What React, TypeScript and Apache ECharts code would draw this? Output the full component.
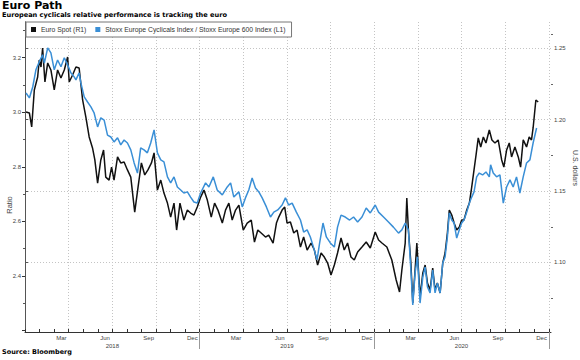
import React, { useEffect, useRef } from 'react';
import * as echarts from 'echarts';

const chartTitle = 'Euro Path';
const chartSubtitle = 'European cyclicals relative performance is tracking the euro';
const sourceNote = 'Source: Bloomberg';
const leftAxisName = 'Ratio';
const rightAxisName = 'U.S. dollars';
const euroName = 'Euro Spot (R1)';
const stoxxName = 'Stoxx Europe Cyclicals Index / Stoxx Europe 600 Index (L1)';

// time is expressed in months elapsed since 1 Jan 2018
const monthStarts = [0, 1, 2, 3, 4, 5, 6, 7, 8, 9, 10, 11, 12, 13, 14, 15, 16, 17, 18, 19, 20, 21, 22, 23, 24, 25, 26, 27, 28, 29, 30, 31, 32, 33, 34, 35, 36];
const quarterStarts = [3, 6, 9, 12, 15, 18, 21, 24, 27, 30, 33, 36];
const monthLabelPos = [2.5, 5.5, 8.5, 11.5, 14.5, 17.5, 20.5, 23.5, 26.5, 29.5, 32.5, 35.5];
const monthLabels = ['Mar', 'Jun', 'Sep', 'Dec', 'Mar', 'Jun', 'Sep', 'Dec', 'Mar', 'Jun', 'Sep', 'Dec'];
const yearLabelPos = [6, 18, 30];
const yearLabels = ['2018', '2019', '2020'];
const yearBoundaries = [12, 24, 36];

const leftMajorTicks = [2.2, 2.4, 2.6, 2.8, 3.0, 3.2];
const leftLabelTicks = [2.4, 2.6, 2.8, 3.0, 3.2];
const leftMinorTicks = [2.3, 2.5, 2.7, 2.9, 3.1, 3.3];
const rightMajorTicks = [1.1, 1.15, 1.2, 1.25];
const rightMinorTicks = [1.075, 1.125, 1.175, 1.225, 1.26];

// Stoxx Europe Cyclicals / Stoxx Europe 600 ratio (left axis)
const stoxxT = [
  0.07, 0.30, 0.53, 0.75, 0.98, 1.21, 1.33, 1.56, 1.78, 2.01,
  2.24, 2.47, 2.70, 2.93, 3.15, 3.38, 3.50, 3.72, 3.84, 4.07,
  4.30, 4.53, 4.75, 4.99, 5.21, 5.44, 5.67, 5.90, 6.12, 6.36,
  6.58, 6.81, 7.04, 7.27, 7.50, 7.73, 7.95, 8.18, 8.41, 8.64,
  8.87, 9.10, 9.33, 9.55, 9.79, 10.01, 10.24, 10.47, 10.70, 10.92,
  11.16, 11.38, 11.61, 11.84, 12.07,
  12.41, 12.64, 12.94, 13.21, 13.56, 13.90, 14.13, 14.35, 14.70, 14.93,
  15.15, 15.38, 15.61, 15.84, 16.07, 16.30, 16.59, 16.87, 17.10, 17.37,
  17.67, 17.90, 18.12, 18.36, 18.65, 18.93, 19.15, 19.39, 19.61, 19.84,
  20.07, 20.25, 20.48, 20.71, 20.98, 21.26, 21.48, 21.72, 22.01, 22.31,
  22.58, 22.86, 23.16, 23.45, 23.73,
  24.07, 24.30, 24.64, 24.98, 25.32, 25.67, 25.90, 26.13, 26.35, 26.52,
  26.65, 26.81, 26.97, 27.15, 27.34, 27.50, 27.66, 27.84, 28.02, 28.18,
  28.34, 28.53, 28.71, 28.87, 29.03, 29.16, 29.33, 29.49, 29.67, 29.85,
  30.01, 30.17, 30.36, 30.54, 30.70, 30.86, 31.04, 31.22, 31.45, 31.68,
  31.91, 32.00, 32.18, 32.41, 32.64, 32.87, 33.10, 33.33, 33.55, 33.78,
  34.01, 34.24, 34.47, 34.70, 34.92, 35.16,
];
const stoxxV = [
  3.070, 3.052, 3.092, 3.155, 3.184, 3.210, 3.180, 3.235, 3.217, 3.155,
  3.191, 3.166, 3.199, 3.173, 3.144, 3.129, 3.118, 3.144, 3.107, 3.056,
  3.037, 3.019, 2.997, 2.946, 2.979, 2.971, 2.916, 2.909, 2.891, 2.906,
  2.880, 2.898, 2.887, 2.862, 2.814, 2.777, 2.869, 2.862, 2.851, 2.887,
  2.935, 2.851, 2.825, 2.818, 2.763, 2.741, 2.763, 2.726, 2.715, 2.704,
  2.708, 2.689, 2.671, 2.667, 2.704,
  2.741, 2.726, 2.763, 2.715, 2.697, 2.726, 2.741, 2.689, 2.708, 2.653,
  2.686, 2.715, 2.759, 2.722, 2.708, 2.686, 2.653, 2.616, 2.634, 2.642,
  2.660, 2.686, 2.660, 2.667, 2.634, 2.605, 2.561, 2.569, 2.543, 2.503,
  2.459, 2.521, 2.594, 2.543, 2.521, 2.506, 2.579, 2.623, 2.616, 2.605,
  2.616, 2.598, 2.616, 2.649, 2.631,
  2.660, 2.634, 2.616, 2.598, 2.579, 2.557, 2.569, 2.594, 2.569, 2.422,
  2.294, 2.411, 2.470, 2.301, 2.396, 2.433, 2.360, 2.338, 2.422, 2.338,
  2.374, 2.338, 2.448, 2.470, 2.543, 2.631, 2.605, 2.594, 2.539, 2.569,
  2.594, 2.605, 2.634, 2.667, 2.689, 2.708, 2.763, 2.777, 2.770, 2.781,
  2.763, 2.807, 2.777, 2.763, 2.770, 2.667, 2.726, 2.752, 2.726, 2.763,
  2.704, 2.763, 2.814, 2.825, 2.887, 2.942,
];

// EUR/USD spot (right axis)
const euroT = [
  0.07, 0.30, 0.46, 0.64, 0.87, 0.98, 1.10, 1.21, 1.37, 1.56,
  1.78, 2.01, 2.24, 2.47, 2.70, 2.93, 3.04, 3.27, 3.50, 3.72,
  3.96, 4.18, 4.41, 4.64, 4.80, 4.99, 5.21, 5.40, 5.55, 5.78,
  5.95, 6.12, 6.36, 6.58, 6.81, 7.04, 7.27, 7.54, 7.77, 8.00,
  8.23, 8.45, 8.69, 8.87, 9.10, 9.33, 9.55, 9.79, 10.01, 10.24,
  10.42, 10.65, 10.92, 11.16, 11.38, 11.61, 11.84, 12.07,
  12.30, 12.53, 12.80, 13.03, 13.26, 13.56, 13.78, 14.01, 14.24, 14.47,
  14.70, 15.00, 15.27, 15.55, 15.77, 16.00, 16.23, 16.53, 16.75, 17.05,
  17.28, 17.44, 17.67, 17.85, 18.01, 18.24, 18.47, 18.70, 18.93, 19.15,
  19.39, 19.66, 19.89, 20.11, 20.35, 20.57, 20.80, 21.03, 21.26, 21.48,
  21.72, 21.94, 22.17, 22.40, 22.63, 22.86, 23.16, 23.45, 23.73,
  24.07, 24.30, 24.53, 24.87, 25.21, 25.51, 25.74, 25.90, 26.13, 26.24,
  26.35, 26.52, 26.65, 26.81, 26.93, 27.15, 27.34, 27.50, 27.66, 27.84,
  28.02, 28.18, 28.34, 28.53, 28.71, 28.87, 29.03, 29.16, 29.33, 29.49,
  29.67, 29.85, 30.01, 30.17, 30.36, 30.54, 30.70, 30.86, 31.00, 31.15,
  31.32, 31.50, 31.68, 31.91, 32.09, 32.30, 32.52, 32.76, 32.91, 33.10,
  33.28, 33.44, 33.67, 33.90, 34.06, 34.24, 34.47, 34.65, 34.81, 34.92,
  35.11, 35.27,
];
const euroV = [
  1.2054, 1.2047, 1.1949, 1.2208, 1.2299, 1.2418, 1.2369, 1.2502, 1.2264, 1.2397,
  1.2348, 1.2208, 1.2348, 1.2292, 1.2348, 1.2439, 1.2264, 1.2313, 1.2369, 1.2362,
  1.2138, 1.2019, 1.1879, 1.1802, 1.1718, 1.1556, 1.1718, 1.1788, 1.1598, 1.1577,
  1.1668, 1.1577, 1.1739, 1.1697, 1.1704, 1.1648, 1.1598, 1.1353, 1.1528, 1.1697,
  1.1613, 1.1648, 1.1697, 1.1767, 1.1507, 1.1577, 1.1486, 1.1416, 1.1318, 1.1416,
  1.1227, 1.1416, 1.1297, 1.1367, 1.1346, 1.1332, 1.1388, 1.1458,
  1.1507, 1.1437, 1.1318, 1.1416, 1.1367, 1.1276, 1.1367, 1.1416, 1.1297, 1.1367,
  1.1402, 1.1227, 1.1276, 1.1297, 1.1143, 1.1227, 1.1206, 1.1178, 1.1192, 1.1136,
  1.1276, 1.1318, 1.1367, 1.1388, 1.1276, 1.1283, 1.1206, 1.1227, 1.1108, 1.1178,
  1.1087, 1.1136, 1.1087, 1.0982, 1.1066, 1.1038, 1.0996, 1.0912, 1.0982, 1.1066,
  1.1171, 1.1087, 1.1136, 1.1038, 1.1017, 1.1073, 1.1108, 1.1143, 1.1101,
  1.1213, 1.1157, 1.1136, 1.1108, 1.1017, 1.0877, 1.0793, 1.0947, 1.1136, 1.1451,
  1.1227, 1.0996, 1.0716, 1.0947, 1.1136, 1.0758, 1.0926, 1.0982, 1.0856, 1.0807,
  1.0961, 1.0807, 1.0856, 1.0786, 1.0996, 1.1066, 1.1206, 1.1367, 1.1332, 1.1276,
  1.1227, 1.1248, 1.1297, 1.1297, 1.1367, 1.1416, 1.1528, 1.1648, 1.1753, 1.1872,
  1.1809, 1.1879, 1.1837, 1.1928, 1.1858, 1.1837, 1.1858, 1.1718, 1.1668, 1.1788,
  1.1837, 1.1739, 1.1809, 1.1739, 1.1668, 1.1858, 1.1809, 1.1879, 1.1858, 1.1942,
  1.2138, 1.2124,
];

const X_MIN = 0;
const X_MAX = 36.15;
const L_MIN = 2.195;
const L_MAX = 3.33;
const R_MIN = 1.0513;
const R_MAX = 1.2684;

const LABEL_FONT = '"Liberation Sans", Arial, sans-serif';
const HEAD_FONT = '"DejaVu Sans", Verdana, sans-serif';

function zip(t: number[], v: number[]) {
  const n = Math.min(t.length, v.length);
  const out: number[][] = [];
  for (let i = 0; i < n; i++) out.push([t[i], v[i]]);
  return out;
}

function lookup(pos: number[], labels: string[], v: number) {
  const i = pos.findIndex((p) => Math.abs(p - v) < 1e-6);
  return i >= 0 ? labels[i] : '';
}

export default function App() {
  const ref = useRef<HTMLDivElement>(null);
  useEffect(() => {
    if (!ref.current) return;
    const chart = echarts.init(ref.current, undefined, { renderer: 'svg' });
    const baseX = { type: 'value', min: X_MIN, max: X_MAX, position: 'bottom', gridIndex: 0 };
    const option: any = {
      animation: false,
      backgroundColor: '#ffffff',
      grid: { left: 25, right: 29, top: 22, bottom: 28, containLabel: false, outerBoundsMode: 'none' },
      legend: {
        data: [euroName, stoxxName],
        left: 26,
        top: 22,
        icon: 'rect',
        itemWidth: 5,
        itemHeight: 5,
        itemGap: 9,
        padding: [4, 6, 4, 5],
        borderColor: '#777',
        borderWidth: 1,
        backgroundColor: '#fff',
        textStyle: { fontSize: 6.8, color: '#333', fontFamily: LABEL_FONT },
        z: 10,
      },
      xAxis: [
        {
          ...baseX,
          axisLine: { show: true, lineStyle: { color: '#333', width: 1 } },
          axisTick: { show: true, inside: true, length: 3, customValues: monthStarts, lineStyle: { color: '#333' } },
          axisLabel: {
            show: true,
            customValues: monthLabelPos,
            formatter: (v: number) => lookup(monthLabelPos, monthLabels, v),
            fontSize: 6,
            color: '#444',
            margin: 3,
            fontFamily: LABEL_FONT,
          },
          splitLine: { show: false },
        },
        {
          ...baseX,
          axisLine: { show: false },
          axisTick: { show: false, customValues: quarterStarts },
          axisLabel: { show: false },
          splitLine: { show: true, lineStyle: { color: '#c4c4c4', width: 1, type: [1, 2] } },
        },
        {
          ...baseX,
          axisLine: { show: false },
          axisTick: { show: true, inside: false, length: 17, customValues: yearBoundaries, lineStyle: { color: '#999' } },
          axisLabel: {
            show: true,
            customValues: yearLabelPos,
            formatter: (v: number) => lookup(yearLabelPos, yearLabels, v),
            fontSize: 6,
            color: '#444',
            margin: 11,
            fontFamily: LABEL_FONT,
          },
          splitLine: { show: false },
        },
      ],
      yAxis: [
        {
          type: 'value', position: 'left', min: L_MIN, max: L_MAX,
          axisLine: { show: true, lineStyle: { color: '#333' } },
          axisTick: { show: true, length: 3, customValues: leftMajorTicks, lineStyle: { color: '#333' } },
          axisLabel: {
            customValues: leftLabelTicks,
            formatter: (v: number) => v.toFixed(1),
            fontSize: 6, color: '#444', margin: 4, fontFamily: LABEL_FONT,
          },
          splitLine: { show: false },
        },
        {
          type: 'value', position: 'right', min: R_MIN, max: R_MAX,
          axisLine: { show: true, lineStyle: { color: '#555' } },
          axisTick: { show: true, length: 3, customValues: rightMajorTicks, lineStyle: { color: '#555' } },
          axisLabel: {
            customValues: rightMajorTicks,
            formatter: (v: number) => v.toFixed(2),
            fontSize: 6, color: '#444', margin: 3, fontFamily: LABEL_FONT,
          },
          splitLine: { show: false },
        },
        {
          type: 'value', position: 'right', min: R_MIN, max: R_MAX,
          axisLine: { show: false },
          axisTick: { show: false, customValues: rightMajorTicks },
          axisLabel: { show: false },
          splitLine: { show: true, lineStyle: { color: '#c4c4c4', width: 1, type: [1, 2] } },
        },
        {
          type: 'value', position: 'left', min: L_MIN, max: L_MAX,
          axisLine: { show: false },
          axisTick: { show: true, length: 2, customValues: leftMinorTicks, lineStyle: { color: '#555' } },
          axisLabel: { show: false },
          splitLine: { show: false },
        },
        {
          type: 'value', position: 'right', min: R_MIN, max: R_MAX,
          axisLine: { show: false },
          axisTick: { show: true, length: 2, customValues: rightMinorTicks, lineStyle: { color: '#666' } },
          axisLabel: { show: false },
          splitLine: { show: false },
        },
      ],
      series: [
        {
          name: euroName,
          type: 'line',
          xAxisIndex: 0,
          yAxisIndex: 1,
          data: zip(euroT, euroV),
          showSymbol: false,
          symbol: 'none',
          color: '#111111',
          lineStyle: { color: '#111111', width: 1.5 },
          z: 3,
        },
        {
          name: stoxxName,
          type: 'line',
          xAxisIndex: 0,
          yAxisIndex: 0,
          data: zip(stoxxT, stoxxV),
          showSymbol: false,
          symbol: 'none',
          color: '#3a8fd6',
          lineStyle: { color: '#3a8fd6', width: 1.5 },
          z: 4,
        },
      ],
      graphic: [
        { type: 'text', left: 2, top: 0, style: { text: chartTitle, font: `bold 11px ${HEAD_FONT}`, fill: '#000' } },
        { type: 'text', left: 2, top: 11, style: { text: chartSubtitle, font: `bold 6.6px ${HEAD_FONT}`, fill: '#000' } },
        { type: 'text', left: 2, top: 348, style: { text: sourceNote, font: `bold 6.5px ${HEAD_FONT}`, fill: '#000' } },
        {
          type: 'text', x: 9, y: 205, rotation: Math.PI / 2,
          style: { text: leftAxisName, font: `7.5px ${LABEL_FONT}`, fill: '#444', textAlign: 'center', textVerticalAlign: 'middle' },
        },
        {
          type: 'text', x: 575, y: 168, rotation: -Math.PI / 2,
          style: { text: rightAxisName, font: `7px ${LABEL_FONT}`, fill: '#444', textAlign: 'center', textVerticalAlign: 'middle' },
        },
      ],
    };
    chart.setOption(option);
    return () => chart.dispose();
  }, []);
  return (
    <div
      ref={ref}
      style={{ position: 'absolute', left: 0, top: 0, width: 580, height: 360, background: '#fff' }}
    />
  );
}
